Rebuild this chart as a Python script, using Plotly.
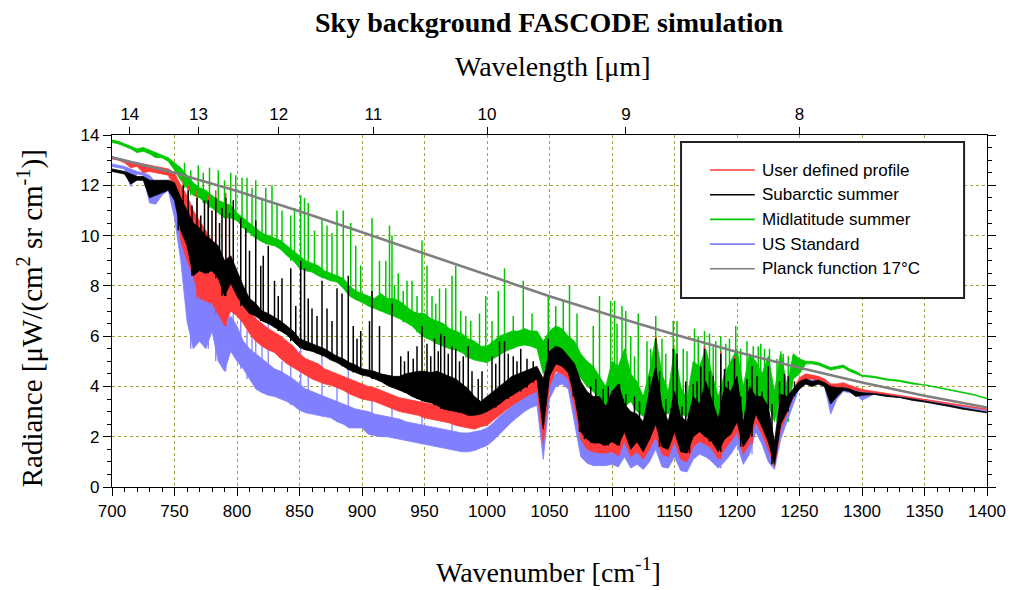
import numpy as np
import plotly.graph_objects as go

# ---------------- data ----------------
wn = list(range(700, 1300, 5)) + list(range(1300, 1401, 10))

green_lo = [13.7, 13.65, 13.55, 13.45, 13.3, 13.35, 13.25, 13.1, 13.1, 12.95,
            12.6, 12.2, 11.9, 11.6, 11.5, 11.3, 11.1, 10.9, 10.7, 10.7,
            10.6, 10.3, 10.1, 9.9, 9.75, 9.65, 9.6, 9.45, 9.2, 9.0,
            8.7, 8.6, 8.55, 8.4, 8.3, 8.2, 8.15, 7.9, 7.6, 7.45,
            7.35, 7.2, 7.1, 7.0, 6.9, 6.8, 6.7, 6.55, 6.4, 6.15,
            5.95, 5.85, 5.7, 5.6, 5.5, 5.45, 5.35, 5.15, 5.05, 5.0,
            4.95, 5.1, 5.25, 5.4, 5.5, 5.6, 5.65, 5.6, 5.5, 4.5,
            5.2, 5.4, 5.35, 5.0, 4.7, 4.3, 4.0, 3.8, 3.5, 3.0,
            3.6, 3.3, 3.2, 3.4, 3.0, 2.8, 3.0, 3.7, 3.0, 2.9,
            3.2, 2.9, 2.8, 3.2, 3.3, 3.6, 3.2, 2.5, 3.0, 3.3,
            3.8, 2.8, 3.5, 3.4, 3.0, 3.3, 2.6, 3.8, 2.6, 4.3,
            4.5, 4.9, 4.9, 4.85, 4.75, 4.65, 4.7, 4.75, 4.6, 4.5,
            4.4, 4.35, 4.25, 4.2, 4.1, 4.05, 3.95, 3.85, 3.75, 3.65, 3.5]
green_hi = [13.8, 13.75, 13.65, 13.55, 13.45, 13.5, 13.4, 13.3, 13.2, 13.1,
            12.9, 12.7, 12.4, 12.1, 11.9, 11.8, 11.6, 11.4, 11.3, 11.2,
            10.9, 10.7, 10.5, 10.3, 10.1, 10.0, 9.9, 9.8, 9.6, 9.4,
            9.2, 9.0, 8.9, 8.8, 8.6, 8.5, 8.4, 8.3, 8.0, 7.8,
            7.7, 7.6, 7.5, 7.7, 7.5, 7.5, 7.4, 7.2, 7.0, 6.9,
            6.9, 6.7, 6.6, 6.5, 6.3, 6.2, 6.1, 5.9, 5.8, 5.6,
            5.6, 5.8, 6.0, 6.1, 6.2, 6.2, 6.3, 6.2, 6.2, 5.8,
            6.2, 6.4, 6.3, 6.0, 5.8, 5.3, 5.0, 4.8, 4.4, 4.0,
            5.0, 4.8, 5.5, 4.5, 4.2, 3.6, 4.6, 6.0, 4.5, 3.8,
            5.5, 4.0, 3.5, 5.0, 4.8, 5.5, 4.5, 3.6, 4.5, 5.0,
            5.5, 4.0, 5.3, 5.0, 4.5, 5.2, 3.8, 5.4, 4.0, 5.3,
            5.1, 5.0, 5.0, 4.95, 4.85, 4.75, 4.8, 4.85, 4.7, 4.6,
            4.45, 4.4, 4.3, 4.25, 4.15, 4.08, 3.98, 3.88, 3.78, 3.68, 3.53]
green_spk_wn = [758, 763, 769, 773, 778, 785, 790, 795, 799, 804, 808, 812, 815, 820, 823,
                828, 832, 836, 843, 846, 851, 854, 857, 862, 868, 872, 876, 880, 885,
                891, 895, 899, 908, 914, 919, 922, 924, 926, 929, 933, 936, 940, 944,
                948, 952, 956, 959, 962, 967, 972, 975, 979, 983, 987, 994, 999, 1004,
                1009, 1014, 1021, 1029, 1036, 1049, 1055, 1061, 1066, 1072, 1085, 1090,
                1099, 1102, 1104, 1108, 1111, 1115, 1118, 1121, 1128, 1131, 1135, 1140,
                1143, 1149, 1152, 1157, 1160, 1166, 1169, 1174, 1178, 1181, 1183, 1187,
                1191, 1194, 1199, 1203, 1208, 1213, 1217, 1219, 1222, 1226, 1232, 1237,
                1241, 1245, 1248]
green_spk_top = [12.9, 12.6, 12.8, 12.5, 12.7, 12.6, 12.2, 12.5, 12.4, 12.3, 12.3, 11.9, 12.2, 11.5, 11.9,
                 12.0, 11.3, 11.0, 10.8, 11.1, 11.6, 11.5, 11.3, 10.2, 10.7, 10.4, 10.1, 11.0, 11.0,
                 10.5, 9.6, 8.8, 10.7, 9.0, 9.0, 10.4, 10.0, 8.0, 8.5, 7.8, 8.2, 8.2, 7.6,
                 9.8, 8.8, 7.6, 7.3, 7.9, 7.9, 8.4, 8.8, 7.0, 6.8, 6.6, 6.9, 7.6, 6.6,
                 7.8, 8.7, 6.8, 8.2, 6.9, 7.6, 7.2, 7.4, 8.0, 6.9, 6.4, 7.6,
                 7.4, 7.4, 6.5, 7.2, 7.0, 6.0, 5.2, 6.9, 5.8, 5.5, 6.8, 5.9,
                 5.3, 6.6, 6.6, 5.5, 5.4, 6.3, 6.0, 6.2, 6.1, 5.6, 5.8, 6.0,
                 5.7, 5.9, 6.4, 5.5, 5.8, 5.6, 5.6, 5.7, 5.5, 5.5, 5.1, 5.3,
                 5.2, 5.2, 5.1]

black_lo = [12.55, 12.5, 12.45, 12.05, 12.2, 12.2, 11.5, 11.6, 11.7, 11.8,
            11.4, 10.2, 9.6, 8.4, 8.6, 8.5, 8.6, 8.3, 7.6, 8.1,
            7.6, 7.2, 6.9, 6.8, 6.6, 6.5, 6.35, 6.2, 6.05, 5.8,
            5.55, 5.45, 5.4, 5.3, 5.2, 5.05, 4.95, 4.8, 4.65, 4.55,
            4.45, 4.4, 4.3, 4.2, 4.05, 3.95, 3.85, 3.75, 3.6, 3.5,
            3.4, 3.35, 3.25, 3.1, 3.05, 3.0, 2.95, 2.85, 2.85, 2.9,
            3.0, 3.15, 3.3, 3.5, 3.65, 3.8, 3.95, 4.15, 4.3, 2.3,
            4.4, 4.9, 4.8, 4.55, 3.6, 2.2, 1.9, 1.75, 1.75, 1.65,
            1.8, 1.65, 2.2, 1.5, 1.8, 1.4, 1.9, 2.5, 1.6, 1.5,
            2.2, 1.4, 1.35, 2.0, 2.2, 2.0, 1.8, 1.4, 1.9, 2.1,
            2.6, 1.6, 2.0, 2.9, 2.4, 1.8, 0.9, 2.5, 3.0, 3.6,
            3.9, 4.1, 4.0, 4.1, 4.0, 3.3, 3.6, 3.85, 3.8, 3.6,
            3.65, 3.68, 3.6, 3.56, 3.45, 3.38, 3.3, 3.2, 3.1, 3.02, 2.95]
black_hi = [12.65, 12.6, 12.55, 12.45, 12.35, 12.35, 12.2, 12.2, 12.2, 12.2,
            12.1, 11.5, 11.0, 10.5, 10.3, 10.0, 9.8, 9.6, 9.0, 9.2,
            8.6, 8.0, 7.5, 7.3, 7.0, 6.9, 6.75, 6.6, 6.4, 6.2,
            5.9, 5.8, 5.7, 5.6, 5.5, 5.35, 5.2, 5.1, 4.95, 4.85,
            4.7, 4.65, 4.6, 4.5, 4.45, 4.4, 4.4, 4.5, 4.55, 4.6,
            4.6, 4.55, 4.6, 4.5, 4.4, 4.3, 4.1, 3.9, 3.6, 3.4,
            3.6, 3.8, 4.0, 4.2, 4.4, 4.5, 4.6, 4.7, 4.8, 4.3,
            5.4, 5.6, 5.5, 5.2, 4.9, 4.2, 3.8, 3.6, 3.6, 3.2,
            3.8, 4.1, 3.3, 3.0, 2.9, 2.6, 3.8, 4.8, 3.2, 2.6,
            3.8, 2.8, 2.6, 3.6, 3.3, 4.2, 3.4, 2.7, 4.0, 3.8,
            4.4, 2.6, 4.0, 3.6, 3.6, 3.2, 1.8, 3.7, 3.6, 3.9,
            4.2, 4.3, 4.2, 4.25, 4.15, 4.0, 3.95, 3.95, 3.9, 3.8,
            3.75, 3.72, 3.65, 3.6, 3.5, 3.42, 3.34, 3.25, 3.15, 3.06, 2.98]
black_spk_wn = [751, 753, 757, 761, 764, 768, 771, 774, 777, 780, 783, 786, 788, 791, 794,
                797, 803, 807, 810, 815, 819, 821, 825, 830, 833, 836, 843, 847, 851,
                854, 857, 860, 864, 868, 872, 876, 880, 884, 889, 893, 896, 899, 906,
                908, 914, 924, 931, 934, 937, 941, 944, 948, 952, 955, 958, 961, 963,
                966, 969, 972, 975, 978, 981, 985, 988, 993, 996, 1004, 1007, 1010,
                1014, 1017, 1021, 1024, 1027, 1032, 1037, 1049, 1053, 1057, 1061, 1065,
                1069, 1074, 1078, 1083, 1087, 1093, 1097, 1102, 1106, 1109, 1111, 1118,
                1122, 1130, 1135, 1138, 1143, 1149, 1152, 1156, 1159, 1162, 1165, 1168,
                1171, 1174, 1178, 1181, 1187, 1190, 1193, 1198, 1203, 1208, 1212, 1216,
                1220, 1225, 1228, 1234, 1238, 1241, 1246]
black_spk_top = [11.9, 11.0, 12.0, 11.8, 11.2, 11.5, 10.8, 11.4, 11.4, 11.0, 11.5, 10.5, 11.1, 11.5, 10.9,
                 11.4, 10.7, 10.3, 9.4, 10.6, 8.8, 9.2, 9.6, 8.2, 7.6, 8.3, 8.7, 7.2, 9.0,
                 8.7, 7.5, 7.1, 6.8, 8.2, 7.1, 6.6, 7.9, 7.7, 8.4, 6.4, 5.9, 6.2, 6.6,
                 7.8, 6.4, 7.3, 5.2, 5.0, 5.4, 5.1, 5.6, 6.4, 5.7, 5.2, 5.9, 5.4, 6.1,
                 6.0, 5.3, 5.6, 5.5, 5.0, 5.2, 5.6, 4.6, 4.3, 4.6, 5.2, 4.9, 5.8,
                 5.8, 5.3, 5.2, 5.0, 5.5, 5.1, 5.0, 5.9, 5.4, 5.5, 5.3, 4.7,
                 4.4, 3.9, 3.9, 4.0, 4.3, 3.9, 4.0, 3.7, 4.1, 3.5, 3.7, 3.6,
                 3.4, 4.4, 5.9, 4.6, 3.5, 5.5, 5.3, 3.2, 4.2, 3.0, 4.1, 4.2,
                 4.8, 5.5, 4.6, 4.4, 5.3, 4.7, 4.2, 5.1, 3.6, 4.3, 4.8, 4.4,
                 3.8, 4.8, 3.3, 4.2, 4.5, 4.4, 4.2]

red_lo = [13.05, 13.0, 12.9, 12.7, 12.75, 12.5, 12.55, 12.5, 12.45, 12.4,
          11.9, 9.8, 9.0, 8.4, 7.5, 7.4, 7.3, 6.9, 6.4, 7.0,
          6.8, 6.5, 6.1, 5.8, 5.6, 5.45, 5.35, 5.1, 4.9, 4.75,
          4.6, 4.45, 4.3, 4.2, 4.1, 4.05, 3.95, 3.85, 3.7, 3.6,
          3.5, 3.45, 3.4, 3.3, 3.2, 3.1, 3.0, 2.95, 2.9, 2.85,
          2.75, 2.7, 2.65, 2.6, 2.55, 2.45, 2.4, 2.35, 2.3, 2.4,
          2.45, 2.65, 2.85, 3.05, 3.25, 3.4, 3.55, 3.7, 3.8, 1.7,
          4.0, 4.6, 4.5, 4.3, 3.2, 1.9, 1.5, 1.4, 1.35, 1.35,
          1.4, 1.25, 1.8, 1.2, 1.4, 1.1, 1.5, 2.0, 1.3, 1.2,
          1.8, 1.1, 1.0, 1.6, 1.8, 1.7, 1.5, 1.1, 1.5, 1.8,
          2.2, 1.3, 1.7, 2.6, 2.1, 1.5, 0.8, 2.3, 2.9, 3.6,
          4.1, 4.3, 4.3, 4.25, 4.15, 3.6, 3.8, 4.0, 3.9, 3.85,
          3.8, 3.75, 3.68, 3.62, 3.55, 3.47, 3.39, 3.3, 3.22, 3.14, 3.08]
red_hi = [13.15, 13.05, 13.0, 12.95, 12.9, 12.85, 12.8, 12.75, 12.7, 12.65,
          12.5, 12.0, 11.6, 11.0, 10.6, 10.2, 9.8, 9.4, 9.0, 8.8,
          8.2, 7.6, 7.0, 6.7, 6.5, 6.3, 6.15, 6.0, 5.8, 5.6,
          5.3, 5.1, 5.0, 4.9, 4.7, 4.6, 4.5, 4.4, 4.3, 4.2,
          4.1, 4.0, 3.95, 3.85, 3.75, 3.65, 3.55, 3.5, 3.45, 3.4,
          3.35, 3.3, 3.25, 3.2, 3.15, 3.05, 3.0, 2.95, 2.9, 2.9,
          3.0, 3.2, 3.4, 3.6, 3.8, 3.95, 4.1, 4.2, 4.3, 3.0,
          4.5, 5.0, 4.9, 4.7, 4.0, 2.6, 2.2, 2.0, 2.0, 1.9,
          2.4, 2.8, 2.4, 1.7, 1.9, 1.6, 2.6, 3.5, 2.0, 1.7,
          2.8, 1.7, 1.5, 2.5, 2.4, 2.8, 2.2, 1.6, 2.6, 2.6,
          3.2, 1.8, 3.0, 3.2, 3.0, 2.4, 1.3, 3.0, 3.4, 3.9,
          4.35, 4.5, 4.45, 4.4, 4.3, 4.1, 4.1, 4.15, 4.05, 3.95,
          3.88, 3.8, 3.72, 3.65, 3.58, 3.5, 3.42, 3.33, 3.25, 3.17, 3.1]
red_spk_wn = [751, 757, 761, 768, 777, 783, 791, 1106, 1135, 1149, 1165, 1174, 1187,
              1198, 1212, 1225, 1238]
red_spk_top = [12.3, 12.3, 12.0, 11.8, 11.6, 11.8, 11.7, 3.0, 6.0, 3.6, 3.0, 5.6, 5.4,
               5.2, 4.0, 4.0, 4.0]

blue_lo = [12.75, 12.7, 12.65, 11.95, 12.45, 12.4, 11.3, 11.25, 11.6, 11.8,
           10.7, 9.0, 6.6, 5.5, 5.8, 5.5, 6.2, 5.0, 4.6, 5.4,
           5.0, 4.7, 4.3, 3.9, 3.75, 3.65, 3.6, 3.5, 3.4, 3.25,
           3.05, 2.95, 2.9, 2.85, 2.8, 2.75, 2.6, 2.5, 2.35, 2.35,
           2.35, 2.1, 2.05, 2.0, 2.0, 1.95, 1.9, 1.85, 1.8, 1.75,
           1.7, 1.65, 1.6, 1.55, 1.5, 1.45, 1.4, 1.4, 1.45, 1.55,
           1.65, 1.85, 2.1, 2.35, 2.6, 2.8, 3.0, 3.15, 3.25, 1.1,
           3.5, 4.0, 4.1, 3.9, 2.6, 1.2, 0.95, 0.85, 0.85, 0.85,
           0.9, 0.8, 1.2, 0.75, 0.9, 0.7, 1.0, 1.5, 0.8, 0.75,
           1.2, 0.65, 0.6, 1.1, 1.3, 1.2, 1.0, 0.75, 1.0, 1.3,
           1.7, 0.9, 1.3, 2.2, 1.7, 1.0, 0.7, 1.9, 2.6, 3.3,
           3.95, 4.1, 4.05, 4.1, 4.0, 2.9, 3.5, 3.8, 3.75, 3.7,
           3.45, 3.7, 3.62, 3.57, 3.48, 3.4, 3.33, 3.25, 3.17, 3.09, 3.02]
blue_hi = [12.85, 12.8, 12.75, 12.65, 12.55, 12.5, 12.4, 12.1, 12.1, 12.2,
           12.1, 11.0, 9.5, 8.5, 8.0, 7.5, 7.3, 7.0, 6.6, 6.8,
           6.4, 5.8, 5.5, 5.3, 5.1, 4.9, 4.7, 4.6, 4.45, 4.3,
           4.1, 3.9, 3.8, 3.7, 3.6, 3.5, 3.4, 3.3, 3.2, 3.1,
           3.05, 3.0, 2.9, 2.85, 2.8, 2.75, 2.7, 2.6, 2.55, 2.5,
           2.45, 2.4, 2.35, 2.3, 2.25, 2.2, 2.15, 2.15, 2.2, 2.25,
           2.35, 2.55, 2.8, 3.0, 3.25, 3.45, 3.6, 3.75, 3.85, 2.3,
           4.1, 4.5, 4.6, 4.4, 3.3, 2.0, 1.6, 1.5, 1.45, 1.4,
           1.9, 2.3, 1.8, 1.3, 1.5, 1.2, 2.0, 3.0, 1.5, 1.3,
           2.3, 1.3, 1.1, 2.0, 2.0, 2.4, 1.8, 1.3, 2.2, 2.2,
           2.8, 1.5, 2.6, 2.9, 2.6, 2.0, 1.2, 2.7, 3.2, 3.8,
           4.2, 4.3, 4.25, 4.3, 4.2, 3.9, 3.95, 4.0, 3.95, 3.85,
           3.78, 3.76, 3.68, 3.62, 3.53, 3.45, 3.37, 3.28, 3.2, 3.12, 3.05]
blue_spk_wn = [757, 763, 768, 777, 783, 791, 797, 803, 808, 812, 815, 820, 825, 836,
               843, 851, 857, 868, 880, 889, 908, 924, 948, 972, 1135, 1149, 1174,
               1187, 1198, 1212]
blue_spk_top = [10.5, 9.0, 8.5, 8.0, 8.2, 7.5, 8.1, 7.5, 6.2, 6.0, 7.0, 5.6, 6.5, 5.0,
                5.0, 6.0, 4.6, 5.5, 4.0, 5.0, 3.6, 3.5, 3.0, 2.9, 3.8, 3.2, 3.5,
                3.5, 3.6, 3.6]

planck_wn = [700, 750, 800, 850, 900, 950, 1000, 1050, 1100, 1150, 1200, 1250, 1300, 1350, 1400]
planck_val = [13.11, 12.50, 11.77, 10.97, 10.13, 9.28, 8.42, 7.59, 6.81, 6.07, 5.37, 4.74, 4.16, 3.63, 3.16]

wavelength_ticks = [14, 13, 12, 11, 10, 9, 8]   # micrometres

legend_names = ["User defined profile", "Subarctic summer", "Midlatitude summer",
                "US Standard", "Planck function 17°C"]
legend_colors = ["#ff3a3a", "#000000", "#00c800", "#8080ff", "#7f7f7f"]

# ---------------- figure ----------------
W, H = 1018, 590
L, R, T, B = 112, 990, 135, 487


def px_x(px):
    return (px - L) / (R - L)


def px_y(py):
    return (B - py) / (B - T)


fig = go.Figure()
wn_arr = np.array(wn)


def add_series(lo, hi, spk_wn, spk_top, color, spk_width):
    fig.add_trace(go.Scatter(x=wn, y=lo, mode="lines", line=dict(color=color, width=0.8),
                             showlegend=False, hoverinfo="skip"))
    fig.add_trace(go.Scatter(x=wn, y=hi, mode="lines", line=dict(color=color, width=0.8),
                             fill="tonexty", fillcolor=color, showlegend=False, hoverinfo="skip"))
    xs, ys = [], []
    for w, t in zip(spk_wn, spk_top):
        i = int(np.argmin(np.abs(wn_arr - w)))
        xs += [w, w, None]
        ys += [lo[i], t, None]
    fig.add_trace(go.Scatter(x=xs, y=ys, mode="lines", line=dict(color=color, width=spk_width),
                             showlegend=False, hoverinfo="skip"))


add_series(green_lo, green_hi, green_spk_wn, green_spk_top, legend_colors[2], 1.5)
add_series(blue_lo, blue_hi, blue_spk_wn, blue_spk_top, legend_colors[3], 1.3)
add_series(red_lo, red_hi, red_spk_wn, red_spk_top, legend_colors[0], 1.5)
add_series(black_lo, black_hi, black_spk_wn, black_spk_top, legend_colors[1], 1.5)
fig.add_trace(go.Scatter(x=planck_wn, y=planck_val, mode="lines",
                         line=dict(color=legend_colors[4], width=2.6), showlegend=False))
# invisible trace so that the top (wavelength) axis is drawn
fig.add_trace(go.Scatter(x=[700, 1400], y=[0, 0], xaxis="x2", mode="lines",
                         line=dict(width=0), showlegend=False, hoverinfo="skip", opacity=0))

tick_font = dict(family="Liberation Sans, Arial", size=17, color="black")
grid_col = "#a3a345"

fig.update_layout(
    width=W, height=H,
    margin=dict(l=L, r=W - R, t=T, b=H - B),
    paper_bgcolor="white", plot_bgcolor="white",
    showlegend=False,
    xaxis=dict(range=[700, 1400], tick0=700, dtick=50, ticks="outside", ticklen=8,
               tickcolor="black", showline=True, linecolor="black", linewidth=1.3, mirror=True,
               showgrid=True, gridcolor=grid_col, griddash="dot", gridwidth=1,
               zeroline=False, tickfont=tick_font,
               minor=dict(dtick=10, ticks="outside", ticklen=4, tickcolor="black", showgrid=False)),
    xaxis2=dict(range=[700, 1400], overlaying="x", side="top", anchor="y",
                tickvals=[1e4 / lam for lam in wavelength_ticks],
                ticktext=[str(lam) for lam in wavelength_ticks],
                ticks="outside", ticklen=7, tickcolor="black", showgrid=False, zeroline=False,
                showline=True, linecolor="black", linewidth=1.3, tickfont=tick_font),
    yaxis=dict(range=[0, 14], tick0=0, dtick=2, ticks="outside", ticklen=8, tickcolor="black",
               showline=True, linecolor="black", linewidth=1.3, mirror="ticks",
               showgrid=True, gridcolor=grid_col, griddash="dot", gridwidth=1,
               zeroline=False, tickfont=tick_font,
               minor=dict(dtick=0.5, ticks="outside", ticklen=4, tickcolor="black", showgrid=False)),
)

serif = "Liberation Serif, Times New Roman, serif"
annos = [
    dict(text="<b>Sky background FASCODE simulation</b>", x=px_x(551), y=px_y(22),
         font=dict(family=serif, size=28, color="black")),
    dict(text="Wavelength [μm]", x=px_x(554), y=px_y(66),
         font=dict(family=serif, size=28, color="black")),
    dict(text="Wavenumber [cm<sup>-1</sup>]", x=px_x(550), y=px_y(570),
         font=dict(family=serif, size=28, color="black")),
    dict(text="Radiance [μW/(cm<sup>2</sup> sr cm<sup>-1</sup>)]", x=px_x(30), y=px_y(318),
         textangle=-90, font=dict(family=serif, size=29, color="black")),
]
for a in annos:
    fig.add_annotation(xref="paper", yref="paper", showarrow=False,
                       xanchor="center", yanchor="middle", **a)

# legend box (drawn by hand to match the reference layout)
fig.add_shape(type="rect", xref="paper", yref="paper",
              x0=px_x(683), x1=px_x(967), y0=px_y(298), y1=px_y(142),
              line=dict(color="#222222", width=2), fillcolor="white", layer="above")
for i, (name, col) in enumerate(zip(legend_names, legend_colors)):
    yy = 170 + 24.7 * i
    fig.add_shape(type="line", xref="paper", yref="paper",
                  x0=px_x(712), x1=px_x(757), y0=px_y(yy), y1=px_y(yy),
                  line=dict(color=col, width=1.6), layer="above")
    fig.add_annotation(xref="paper", yref="paper", x=px_x(762), y=px_y(yy),
                       xanchor="left", yanchor="middle", showarrow=False, text=name,
                       font=dict(family="Liberation Sans, Arial", size=17, color="black"))

fig.write_html("out.html")
